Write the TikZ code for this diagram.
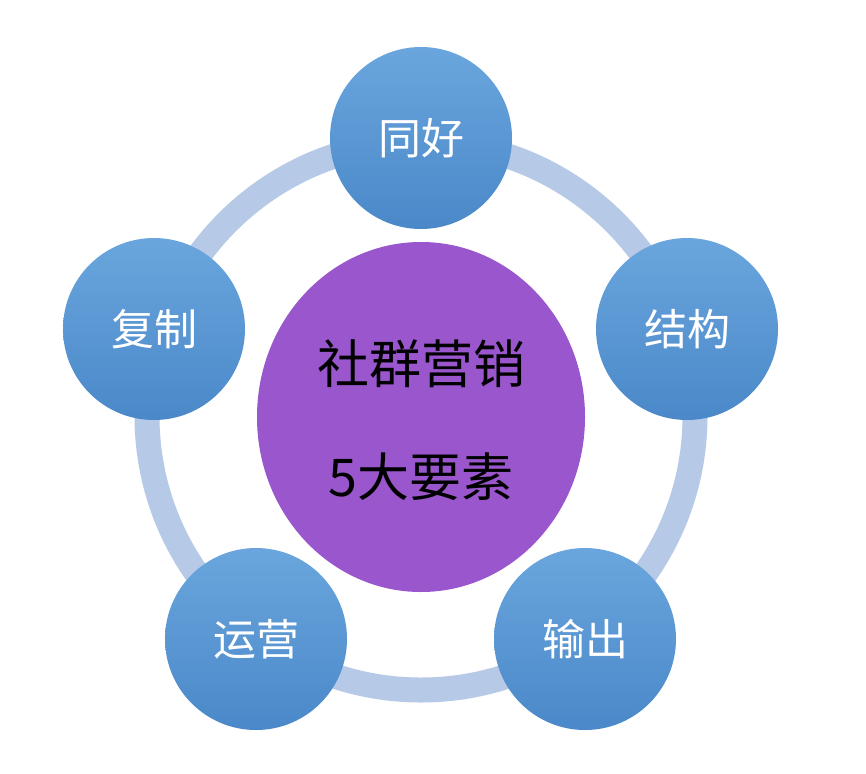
\documentclass[tikz,border=0pt]{standalone}
\usepackage{fontspec}
\newfontfamily\cjk{Noto Sans CJK SC}
\usetikzlibrary{shapes.geometric}
\definecolor{ringblue}{HTML}{B6C9E6}
\definecolor{balltop}{HTML}{6AA6DD}
\definecolor{ballbot}{HTML}{4A88C9}
\definecolor{purplefill}{HTML}{9A56CC}
\tikzset{
  ball/.style={circle, minimum size=182pt, inner sep=0pt, top color=balltop, bottom color=ballbot, draw=none,
    text=white, font=\cjk\fontsize{43}{43}\selectfont},
  hub/.style={ellipse, minimum width=328pt, minimum height=350pt, inner sep=0pt, fill=purplefill, draw=none},
  hubtext/.style={text=black, inner sep=0pt, font=\cjk\fontsize{52}{52}\selectfont}
}
\begin{document}
\begin{tikzpicture}[x=1pt,y=-1pt]
\useasboundingbox (0,0) rectangle (866,773);
\fill[white] (0,0) rectangle (866,773);
\coordinate (c) at (421,416);
\draw[line width=25pt, ringblue] (c) circle [radius=274pt];
\node[hub] (hub) at (421,417) {};
\node[hubtext] (t1) at (421,364) {社群营销};
\node[hubtext] (t2) at (421,477) {5大要素};
\node[ball] (a) at (421,138) {同好};
\node[ball] (b) at (687,329) {结构};
\node[ball] (d) at (585,639) {输出};
\node[ball] (e) at (256,639) {运营};
\node[ball] (f) at (154,329) {复制};
\end{tikzpicture}
\end{document}
